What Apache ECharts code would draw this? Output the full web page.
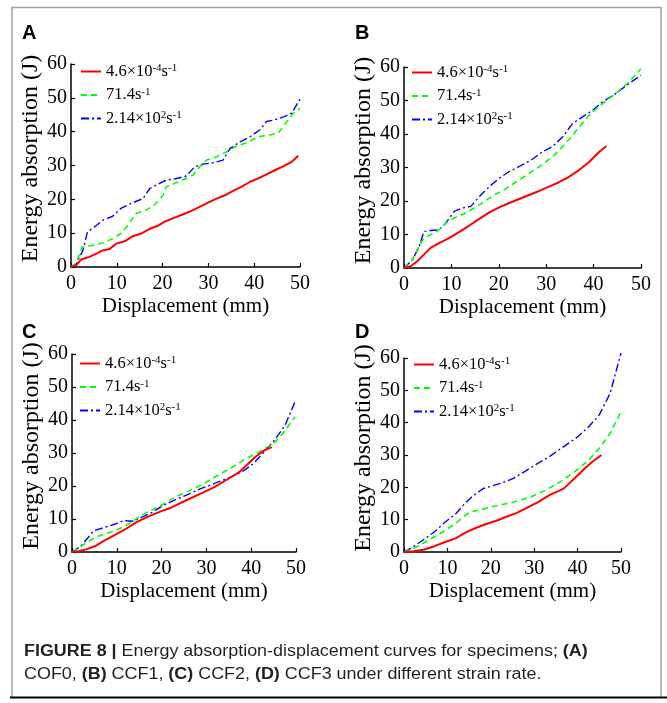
<!DOCTYPE html>
<html>
<head>
<meta charset="utf-8">
<script src="https://cdn.jsdelivr.net/npm/echarts@6/dist/echarts.min.js"></script>
<style>html,body{margin:0;padding:0;background:#fff;}#chart{width:667px;height:703px;}</style>
</head>
<body>
<div id="chart"></div>
<script>
// ---- Data (displacement mm, energy J) ----
const xTicks = [0, 10, 20, 30, 40, 50];
const yTicks = [0, 10, 20, 30, 40, 50, 60];
const seriesNames = ['4.6×10-4s-1', '71.4s-1', '2.14×102s-1'];
const panelLetters = ['A', 'B', 'C', 'D'];

// Panel A (COF0)
const A_slow = [[0,0],[1.1,0.5],[2.2,2.2],[4,3],[5.8,4.1],[6.9,4.9],[8.4,5.3],[9.9,6.9],[11.7,7.6],[13.5,9.1],[15.3,9.9],[17.2,11.3],[19,12.2],[20.8,13.6],[22.6,14.6],[24.5,15.6],[26.3,16.6],[28.1,17.8],[29.9,19],[31.8,20.2],[33.6,21.2],[35.4,22.5],[37.2,23.7],[39.1,25.2],[40.9,26.2],[42.7,27.4],[44.5,28.6],[46.4,29.8],[48.2,31.1],[49.6,32.9]];
const A_mid = [[0,0],[1.1,1],[2.4,5.9],[4.7,6.4],[6.9,7.1],[9.1,8.4],[10.9,9.9],[12.4,12.3],[14.2,15.8],[16.4,16.8],[18.2,18.3],[20.1,21.2],[20.8,23.7],[23,24.9],[25.2,26.2],[26.6,27.1],[28.1,29.6],[29.6,31.6],[31.8,32.6],[33.9,34],[36.1,35.7],[38.3,36.7],[40.9,38.5],[43.4,39],[45.3,39.7],[47.1,42.9],[48.5,45.4],[50,46.9]];
const A_fast = [[0,0],[1.1,0.8],[2.6,4.9],[3.6,10.4],[5.1,11.8],[6.9,13.8],[9.1,15],[10.9,17.3],[13.1,18.8],[15.7,20.2],[17.2,23.2],[19,24.5],[20.8,25.7],[22.6,26],[25.2,26.9],[27,29.6],[28.8,30.4],[31,30.8],[33.2,31.6],[34.7,35],[36.9,37],[39.1,38.5],[41.2,40.5],[42.7,43],[44.5,43.5],[46.7,44.5],[48.2,45.5],[50,49.6]];

// Panel B (CCF1)
const B_slow = [[0,0],[1.4,0.5],[2.8,2],[4.2,4],[5.6,6],[7.4,7.4],[9.5,8.9],[11.6,10.7],[13.7,12.6],[15.8,14.6],[18,16.6],[20.1,18.1],[22.2,19.4],[24.3,20.6],[26.4,21.8],[28.5,23],[30.6,24.3],[32.7,25.6],[34.9,27.3],[37,29.3],[39.1,31.7],[41.2,34.7],[42.7,36.4]];
const B_mid = [[0,0],[1.4,1.5],[2.8,5.5],[4.2,8.9],[5.6,9.9],[7.4,11.4],[8.8,13.4],[10.6,14.9],[12.7,16.2],[14.8,17.9],[16.9,19.8],[19,21.8],[21.1,23.3],[23.2,25.3],[25.4,27.3],[27.5,29.3],[29.6,31.3],[31.7,33.7],[33.8,36.7],[35.6,39.7],[37.3,42.7],[39.4,46.1],[41.9,49.1],[44.7,52.1],[47.5,55.6],[50,59.5]];
const B_fast = [[0,0],[1.8,2.5],[3.2,6.4],[4.2,10.9],[5.6,11.2],[7.4,11.4],[8.8,13.4],[10.6,16.9],[12.3,17.9],[14.1,18.4],[16.2,21.8],[18,24.3],[20.1,26.8],[22.2,28.8],[24.3,30.3],[26.8,32.2],[29.2,34.7],[31.3,36.2],[33.5,39.2],[35.6,43.2],[37.7,45.1],[39.8,47.1],[41.9,49.6],[44.7,52.1],[47.5,55.1],[50,57.5]];

// Panel C (CCF2)
const C_slow = [[0,0],[1.6,0.3],[3.2,0.8],[5.2,1.8],[7.1,3.4],[9.5,5.1],[11.9,6.9],[14.3,9],[17.1,10.8],[19.8,12.3],[22.2,13.5],[25.4,15.6],[28.6,17.6],[31.7,19.6],[34.9,22.2],[37.3,24.2],[38.9,26.2],[40.9,28.8],[42.9,30.8],[44.6,31.8]];
const C_mid = [[0,0],[1.6,1.3],[3.2,2.8],[5.2,4.4],[7.1,5.4],[9.5,6.4],[11.9,7.9],[14.3,10],[16.7,12],[19.8,14],[23,16.6],[26.2,18.6],[29.4,20.7],[32.5,23.2],[35.7,25.7],[38.9,28.3],[42.1,30.6],[45.2,33.1],[47.6,36.9],[49.8,41]];
const C_fast = [[0,0],[2,1.8],[3.6,4.4],[4.8,6.4],[7.1,7.4],[9.5,8.4],[11.5,9.5],[13.5,9.3],[15.5,10.5],[17.9,12],[20.2,14],[23,15.8],[25.8,17.4],[28.6,19.1],[31.7,20.7],[34.9,22.4],[38.1,24.4],[40.5,26.8],[42.9,30.3],[45.2,33.9],[47.6,38.5],[49.8,45.6]];

// Panel D (CCF3)
const D_slow = [[0,0],[2.1,0.2],[4.5,0.7],[7,1.8],[9.5,3.1],[12,4.3],[14,5.9],[16.1,7.2],[18.6,8.5],[21.1,9.6],[23.6,10.9],[26,12.1],[28.5,13.8],[31,15.5],[33.5,17.6],[36.8,19.6],[39.3,22.8],[41.7,25.9],[43.4,27.9],[45.5,30]];
const D_mid = [[0,0],[2.1,1],[4.5,2.8],[7,4.7],[9.5,6.7],[12,9],[14,11.2],[15.3,12.4],[17.8,13.1],[20.2,14],[22.7,14.7],[26,15.7],[29.3,17.1],[32.6,19.1],[36,21.7],[39.3,24.8],[42.6,28.4],[45,32.1],[47.5,36.7],[50,43.4]];
const D_fast = [[0,0],[2.1,1.6],[4.5,3.8],[7,6.2],[9.5,9.3],[12,11.9],[14,15],[16.1,17.6],[18.2,19.6],[20.2,20.4],[22.7,21.4],[25.2,22.8],[27.7,24.8],[30.2,26.9],[33.5,29.5],[36.8,32.6],[40.1,35.7],[42.6,38.8],[45,42.4],[47.5,49.1],[50,61.5]];

const panelData = [[A_slow, A_mid, A_fast],[B_slow, B_mid, B_fast],[C_slow, C_mid, C_fast],[D_slow, D_mid, D_fast]];

// ---- Layout ----
const grids = [
  {left: 71, top: 64, width: 229, height: 203},
  {left: 404, top: 67, width: 237, height: 201},
  {left: 72, top: 354, width: 224, height: 198},
  {left: 404, top: 358, width: 217, height: 194}
];
const legendPos = [
  {left: 80, top: 63},
  {left: 411, top: 64},
  {left: 79, top: 355},
  {left: 413, top: 356}
];
const letterPos = [[22, 34], [355, 34], [22, 333], [355, 333]];

const serif = 'Liberation Serif, Times New Roman, serif';
const lineStyles = [
  {color: '#ff0000', width: 2, type: 'solid'},
  {color: '#00ff00', width: 1.6, type: [6, 4]},
  {color: '#0000ff', width: 1.4, type: [8, 3, 2, 3]}
];
const legendLabels = {
  '4.6×10-4s-1': '4.6×10{s|-4}s{s|-1}',
  '71.4s-1': '71.4s{s|-1}',
  '2.14×102s-1': '2.14×10{s|2}s{s|-1}'
};

const xAxes = [], yAxes = [], series = [], legends = [], graphics = [];
grids.forEach((g, i) => {
  xAxes.push({
    type: 'value', gridIndex: i, min: 0, max: 50, interval: 10,
    name: 'Displacement (mm)', nameLocation: 'middle', nameGap: 29,
    nameTextStyle: {fontFamily: serif, fontSize: 21, color: '#000'},
    axisLine: {show: true, lineStyle: {color: '#000', width: 1.5}},
    axisTick: {show: true, inside: true, length: 4, lineStyle: {color: '#000', width: 1.2}},
    axisLabel: {fontFamily: serif, fontSize: 20, color: '#000', margin: 7},
    splitLine: {show: false}
  });
  yAxes.push({
    type: 'value', gridIndex: i, min: 0, max: 60, interval: 10,
    name: 'Energy absorption (J)', nameLocation: 'middle', nameGap: 27,
    nameTextStyle: {fontFamily: serif, fontSize: 24, color: '#000', padding: [0, 0, 0, 14]},
    axisLine: {show: true, lineStyle: {color: '#000', width: 1.5}},
    axisTick: {show: true, inside: true, length: 4, lineStyle: {color: '#000', width: 1.2}},
    axisLabel: {fontFamily: serif, fontSize: 20, color: '#000', margin: 4},
    splitLine: {show: false}
  });
  panelData[i].forEach((d, k) => {
    series.push({
      type: 'line', name: seriesNames[k], xAxisIndex: i, yAxisIndex: i,
      data: d, showSymbol: false, symbol: 'none', smooth: false, clip: false,
      lineStyle: lineStyles[k], itemStyle: {color: lineStyles[k].color},
      animation: false, z: 3 - k
    });
  });
  legends.push({
    orient: 'vertical', left: legendPos[i].left, top: legendPos[i].top, padding: 0,
    data: seriesNames.slice(),
    itemWidth: 20, itemHeight: 12, itemGap: 6.5, selectedMode: false,
    itemStyle: {opacity: 0},
    formatter: n => legendLabels[n],
    textStyle: {fontFamily: serif, fontSize: 16.5, color: '#000', lineHeight: 17,
      rich: {s: {fontFamily: serif, fontSize: 11, lineHeight: 11, verticalAlign: 'top', color: '#000'}}}
  });
  graphics.push({
    type: 'text', left: letterPos[i][0], top: letterPos[i][1] - 11,
    style: {text: panelLetters[i], font: 'bold 20px Liberation Sans, Arial, sans-serif', fill: '#000'}
  });
});

// Frame and caption
graphics.push({type: 'polyline', shape: {points: [[12, 697], [12, 7.5], [661, 7.5], [661, 697]]},
  style: {stroke: '#a0a0a0', lineWidth: 1.5, fill: null}, silent: true});
graphics.push({type: 'line', shape: {x1: 10, y1: 697.5, x2: 667, y2: 697.5},
  style: {stroke: '#000', lineWidth: 2}, silent: true});
graphics.push({
  type: 'text', x: 24, y: 640, scaleX: 1.12,
  style: {
    text: '{b|FIGURE 8 |} Energy absorption-displacement curves for specimens; {b|(A)}\nCOF0, {b|(B)} CCF1, {b|(C)} CCF2, {b|(D)} CCF3 under different strain rate.',
    font: '16px Liberation Sans, Arial, sans-serif', fill: '#231f20', lineHeight: 23,
    rich: {b: {font: 'bold 16px Liberation Sans, Arial, sans-serif', fill: '#231f20', lineHeight: 23}}
  }
});

const chart = echarts.init(document.getElementById('chart'), null, {renderer: 'canvas'});
chart.setOption({
  animation: false,
  backgroundColor: '#fff',
  grid: grids.map(g => Object.assign({containLabel: false}, g)),
  xAxis: xAxes, yAxis: yAxes, series: series, legend: legends, graphic: graphics
});
</script>
</body>
</html>
